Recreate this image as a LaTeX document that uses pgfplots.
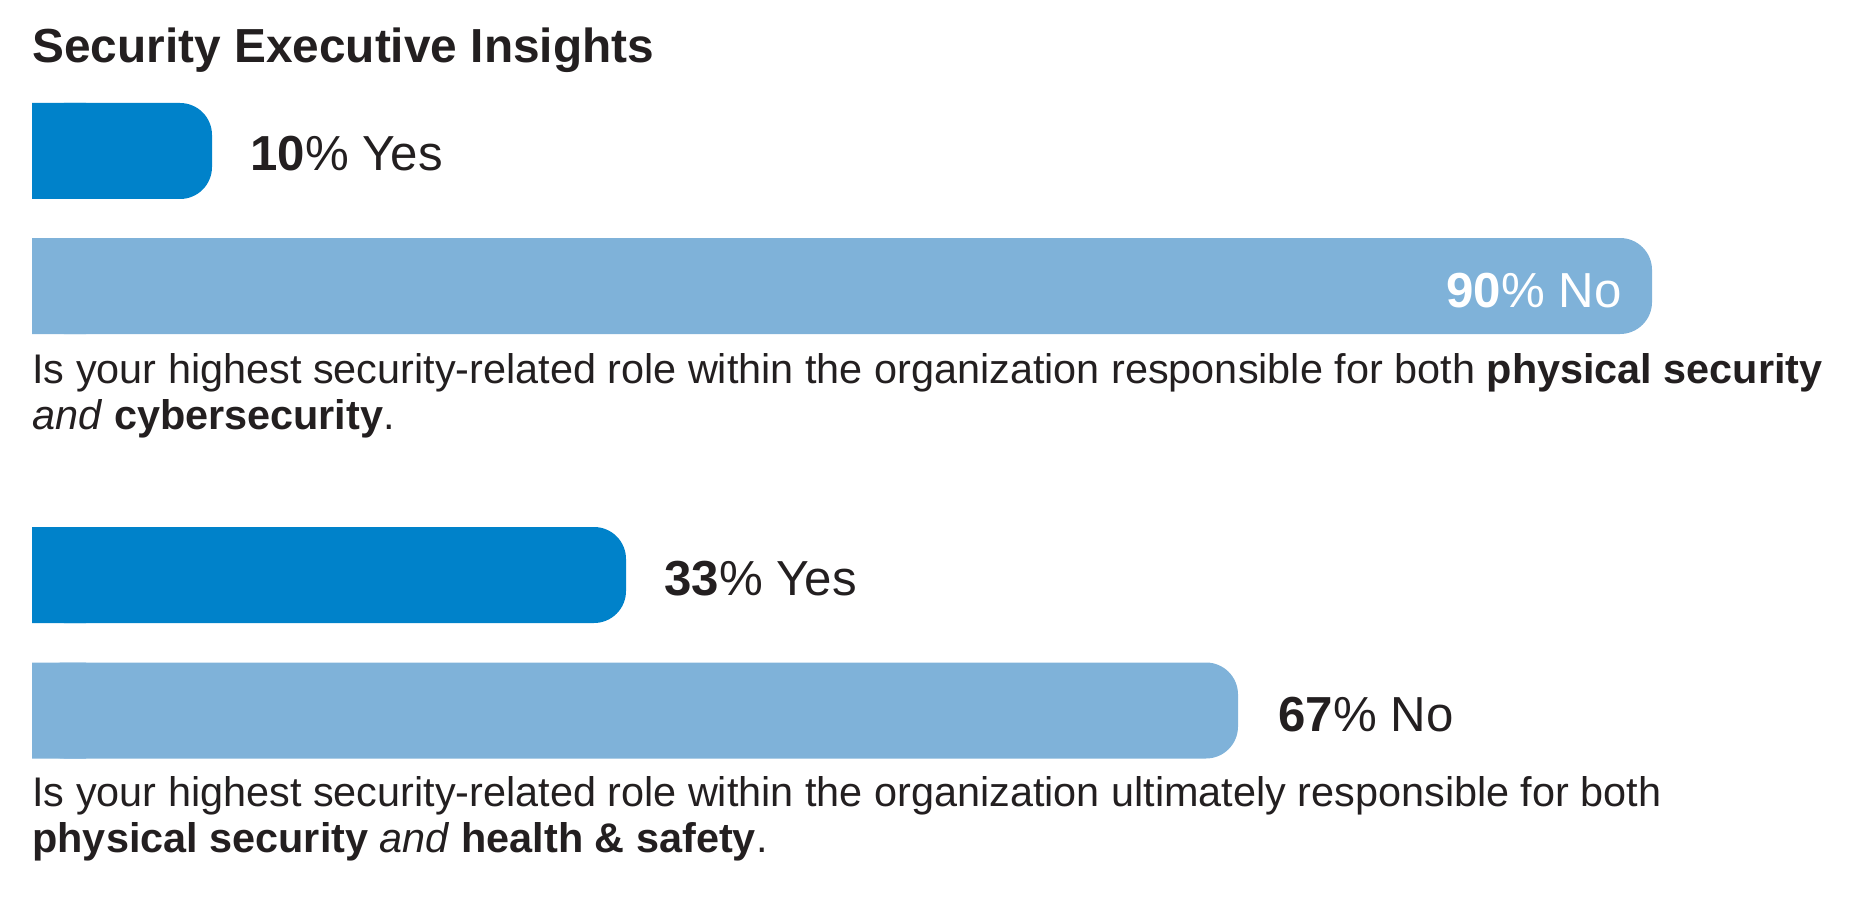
\documentclass[border=0pt]{standalone}
\usepackage{pgfplots}
\pgfplotsset{compat=1.18}
\usepackage{fontspec}
\setmainfont{Liberation Sans}
\definecolor{darkb}{RGB}{0,130,202}
\definecolor{lightb}{RGB}{127,178,217}
\definecolor{txt}{RGB}{35,31,32}
\begin{document}
\begin{tikzpicture}
\begin{axis}[
  scale only axis, width=933pt, height=452pt,
  xmin=-1.77778, xmax=101.88889,
  ymin=0, ymax=904, y dir=reverse,
  hide axis, clip=false,
]
% rounded bars
\addplot[xbar, bar shift=0pt, bar width=96, fill=darkb, draw=none, rounded corners=16pt] coordinates {(10,151) (33,575)};
\addplot[xbar, bar shift=0pt, bar width=96, fill=lightb, draw=none, rounded corners=16pt] coordinates {(90,286) (67,710.5)};
% square left ends
\addplot[xbar, bar shift=0pt, bar width=96, fill=darkb, draw=none] coordinates {(3,151) (3,575)};
\addplot[xbar, bar shift=0pt, bar width=96, fill=lightb, draw=none] coordinates {(3,286) (3,710.5)};

\tikzset{lab/.style={inner sep=0pt, text=txt, font=\fontsize{24.6pt}{28pt}\selectfont}}
\node[lab, anchor=base west, xshift=19pt, yshift=-10pt] at (axis cs:10,151) {\textbf{10}\% Yes};
\node[lab, anchor=base east, xshift=-15pt, yshift=-10.5pt, text=white] at (axis cs:90,286) {\textbf{90}\% No};
\node[lab, anchor=base west, xshift=19pt, yshift=-10pt] at (axis cs:33,575) {\textbf{33}\% Yes};
\node[lab, anchor=base west, xshift=20pt, yshift=-10.25pt] at (axis cs:67,710.5) {\textbf{67}\% No};

\node[anchor=base west, inner sep=0pt, text=txt, font=\fontsize{23.9pt}{28pt}\selectfont\bfseries] at (axis cs:0,63) {Security Executive Insights};

\tikzset{body/.style={anchor=base west, inner sep=0pt, text=txt, font=\fontsize{20.7pt}{23pt}\selectfont}}
\node[body] at (axis cs:0,383) {Is your highest security-related role within the organization responsible for both \textbf{physical security}};
\node[body] at (axis cs:0,429) {\textit{and} \textbf{cybersecurity}.};
\node[body] at (axis cs:0,806) {Is your highest security-related role within the organization ultimately responsible for both};
\node[body] at (axis cs:0,852) {\textbf{physical security} \textit{and} \textbf{health \& safety}.};
\end{axis}
\pgfresetboundingbox
\path[use as bounding box] (current axis.south west) rectangle (current axis.north east);
\end{tikzpicture}
\end{document}
